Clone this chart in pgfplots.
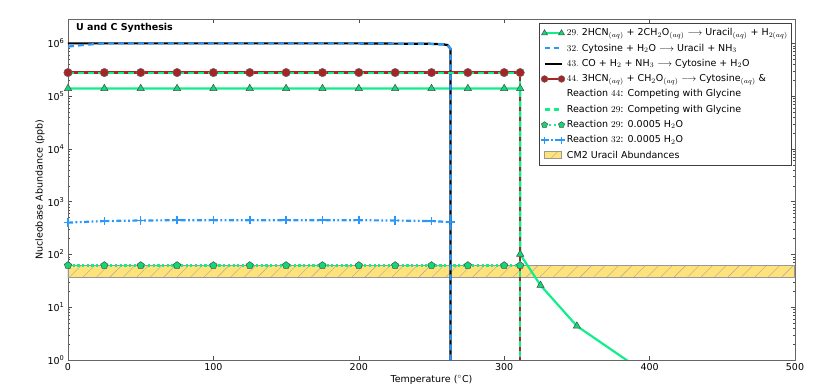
\documentclass[border=0pt]{standalone}
\usepackage{fontspec}
\setmainfont{DejaVu Sans}
\usepackage{pgfplots}
\pgfplotsset{compat=1.18}
\usetikzlibrary{patterns.meta}
\definecolor{sgreen}{HTML}{12EE8A}
\definecolor{mkgreen}{HTML}{0FD877}
\definecolor{dblue}{HTML}{2A97FA}
\definecolor{brn}{HTML}{A82424}
\definecolor{bandfill}{HTML}{FFE27A}
\begin{document}
\begin{tikzpicture}[font=\fontsize{9.5}{11}\selectfont]
\begin{axis}[
  at={(0pt,0pt)}, anchor=south west,
  scale only axis, width=727pt, height=341pt,
  xmin=0, xmax=500, ymode=log, ymin=1, ymax=2.9e6,
  xtick={0,100,200,300,400,500},
  /pgf/number format/assume math mode=true,
  ytick={1,10,100,1000,10000,100000,1000000},
  yticklabels={10\textsuperscript{0},10\textsuperscript{1},10\textsuperscript{2},10\textsuperscript{3},10\textsuperscript{4},10\textsuperscript{5},10\textsuperscript{6}},
  axis line style={black!60, line width=0.8pt},
  every tick/.style={black!70},
  major tick length=4pt, minor tick length=2pt,
  xlabel={Temperature ($^\circ$C)},
  ylabel={Nucleobase Abundance (ppb)},
  xlabel style={at={(axis description cs:0.5,-0.0587)}, anchor=center},
  ylabel style={at={(axis description cs:-0.0385,0.5)}, anchor=center},
  legend cell align=left,
  legend image code/.code={\draw[#1, mark repeat=1, mark phase=1] plot coordinates {(0pt,0pt) (17pt,0pt)};},
  legend style={at={(0.996,0.988)}, anchor=north east, draw=black!75, line width=0.7pt,
    font=\fontsize{9.5}{11}\selectfont, row sep=0pt, inner xsep=2pt,
    nodes={text height=8.3pt, text depth=3pt, inner ysep=2pt}},
]
% band
\addplot[forget plot, draw=black!40, line width=1.2pt, fill=bandfill,
  postaction={pattern={Lines[angle=45,distance=9.5pt,line width=0.4pt]}, pattern color=black!35}]
  coordinates {(0,36) (500,36) (500,61) (0,61)} -- cycle;
% Reaction 32: 0.0005 H2O
\addplot[forget plot, dblue, line width=2.2pt, dash pattern=on 5pt off 2.5pt on 1.8pt off 2.5pt on 1.8pt off 2.5pt,
  mark=+, mark size=4.2pt, mark options={solid, line width=1.5pt}]
  coordinates {(0,400) (25,430) (50,440) (75,445) (100,446) (125,446) (150,446) (175,445) (200,445) (225,440) (250,430) (263,410)};
% Reaction 29: 0.0005 H2O
\addplot[forget plot, sgreen, line width=2.2pt, dash pattern=on 2.2pt off 2.5pt,
  mark=pentagon*, mark size=3.8pt, mark options={solid, fill=mkgreen, draw=black!70, line width=0.5pt}]
  coordinates {(0,62) (25,62) (50,62) (75,62) (100,62) (125,62) (150,62) (175,62) (200,62) (225,62) (250,62) (275,62) (300,62) (311,62)};
% Reaction 29 main
\addplot[forget plot, sgreen, line width=2.2pt,
  mark=triangle*, mark size=4.2pt, mark options={fill=mkgreen, draw=black!70, line width=0.5pt}]
  coordinates {(0,1.4e5) (25,1.4e5) (50,1.4e5) (75,1.4e5) (100,1.4e5) (125,1.4e5) (150,1.4e5) (175,1.4e5) (200,1.4e5) (225,1.4e5) (250,1.4e5) (275,1.4e5) (300,1.4e5) (311,1.4e5) (311,101) (325,26) (350,4.4) (400,0.5) (450,0.06) (500,0.008)};
% Reaction 43 black
\addplot[forget plot, black, line width=2.2pt]
  coordinates {(0,1e6) (200,1e6) (250,0.98e6) (258,0.96e6) (261,0.93e6) (263,0.8e6) (263,0.1)};
% Reaction 32 blue dashed
\addplot[forget plot, dblue, line width=2.2pt, dash pattern=on 6pt off 4pt]
  coordinates {(0,0.87e6) (10,0.93e6) (25,1e6) (200,1e6) (250,0.98e6) (258,0.96e6) (261,0.93e6) (263,0.8e6) (263,0.1)};
% Reaction 44 red line
\addplot[forget plot, brn, line width=2.2pt]
  coordinates {(0,2.8e5) (311,2.8e5) (311,0.1)};
% Reaction 29 competing with glycine
\addplot[forget plot, sgreen, line width=2.2pt, dash pattern=on 6pt off 4pt]
  coordinates {(0,2.75e5) (311,2.75e5) (311,0.1)};
% Reaction 44 markers
\addplot[forget plot, only marks, mark=*, mark size=4.2pt, mark options={fill=brn, draw=black!60, line width=0.5pt}]
  coordinates {(0,2.8e5) (25,2.8e5) (50,2.8e5) (75,2.8e5) (100,2.8e5) (125,2.8e5) (150,2.8e5) (175,2.8e5) (200,2.8e5) (225,2.8e5) (250,2.8e5) (275,2.8e5) (300,2.8e5) (311,2.8e5)};

% legend
\addlegendimage{sgreen, line width=2.2pt, mark=triangle*, mark size=3.4pt, mark options={fill=mkgreen, draw=black!70, line width=0.5pt}}
\addlegendentry{$29.$ 2HCN$_{(aq)}$ + 2CH$_2$O$_{(aq)}$ $\longrightarrow$ Uracil$_{(aq)}$ + H$_{2(aq)}$}
\addlegendimage{dblue, line width=2.2pt, dash pattern=on 5pt off 4pt}
\addlegendentry{$32.$ Cytosine + H$_2$O $\longrightarrow$ Uracil + NH$_3$}
\addlegendimage{black, line width=2.2pt}
\addlegendentry{$43.$ CO + H$_2$ + NH$_3$ $\longrightarrow$ Cytosine + H$_2$O}
\addlegendimage{brn, line width=2.2pt, mark=*, mark size=3.4pt, mark options={fill=brn, draw=black!60, line width=0.5pt}}
\addlegendentry{$44.$ 3HCN$_{(aq)}$ + CH$_2$O$_{(aq)}$ $\longrightarrow$ Cytosine$_{(aq)}$ \&}
\addlegendimage{empty legend}
\addlegendentry{Reaction $44$: Competing with Glycine}
\addlegendimage{sgreen, line width=2.2pt, dash pattern=on 5pt off 4pt}
\addlegendentry{Reaction $29$: Competing with Glycine}
\addlegendimage{sgreen, line width=2.2pt, dash pattern=on 2.2pt off 2.5pt, mark=pentagon*, mark size=3.2pt, mark options={solid, fill=mkgreen, draw=black!70, line width=0.5pt}}
\addlegendentry{Reaction $29$: 0.0005 H$_2$O}
\addlegendimage{dblue, line width=2.2pt, dash pattern=on 4pt off 2.5pt on 1.5pt off 2.5pt, mark=+, mark size=3.4pt, mark options={solid, line width=1.5pt}}
\addlegendentry{Reaction $32$: 0.0005 H$_2$O}
\addlegendimage{legend image code/.code={\draw[draw=black!40, line width=1pt, fill=bandfill, postaction={pattern={Lines[angle=45,distance=9.5pt,line width=0.4pt]}, pattern color=black!35}] (0pt,-3.5pt) rectangle (17pt,3.5pt);}}
\addlegendentry{CM2 Uracil Abundances}

\node[anchor=west, font=\bfseries\fontsize{9.5}{11}\selectfont, inner sep=0pt] at (rel axis cs:0.011,0.9736) {U and C Synthesis};
\end{axis}
\pgfresetboundingbox
\path[use as bounding box] (-68pt,-27pt) rectangle (763pt,360pt);
\end{tikzpicture}
\end{document}
